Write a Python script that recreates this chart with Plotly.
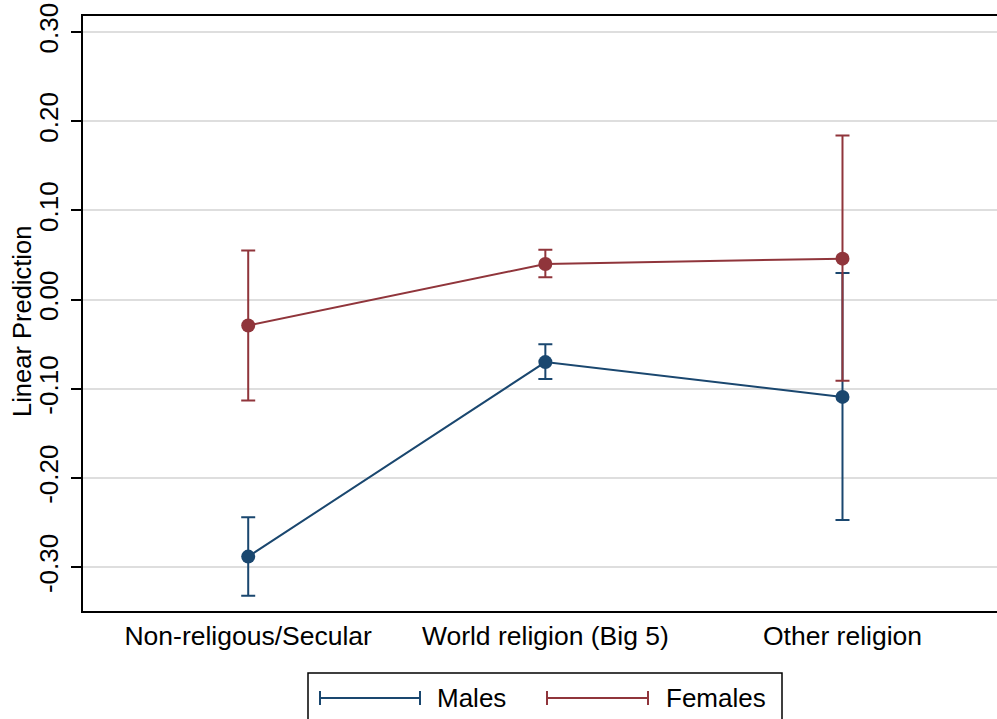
import plotly.graph_objects as go

categories = ["Non-religous/Secular", "World religion (Big 5)", "Other religion"]
males = [-0.288, -0.070, -0.109]
males_lo = [-0.332, -0.089, -0.247]
males_hi = [-0.244, -0.050, 0.030]
females = [-0.029, 0.040, 0.046]
females_lo = [-0.113, 0.025, -0.091]
females_hi = [0.055, 0.056, 0.184]
ytick_vals = [-0.30, -0.20, -0.10, 0.00, 0.10, 0.20, 0.30]
ytick_text = ["-0.30", "-0.20", "-0.10", "0.00", "0.10", "0.20", "0.30"]
y_title = "Linear Prediction"

BLUE = "#1a476f"
RED = "#90353b"
xpos = list(range(len(categories)))

fig = go.Figure()

def add_series(y, lo, hi, color, name):
    fig.add_trace(go.Scatter(
        x=xpos, y=y, mode="lines+markers", name=name,
        line=dict(color=color, width=2),
        marker=dict(color=color, size=14),
        error_y=dict(type="data", symmetric=False,
                     array=[h - v for h, v in zip(hi, y)],
                     arrayminus=[v - l for v, l in zip(y, lo)],
                     color=color, thickness=2, width=7),
        showlegend=False,
    ))

add_series(males, males_lo, males_hi, BLUE, "Males")
add_series(females, females_lo, females_hi, RED, "Females")

FONT = "Liberation Sans, Arial, Helvetica, sans-serif"

fig.update_layout(
    width=997, height=719,
    margin=dict(l=83, r=0, t=16, b=108),
    paper_bgcolor="white", plot_bgcolor="white",
    font=dict(family=FONT, color="black", size=26),
    xaxis=dict(
        range=[-0.556, 2.52], tickvals=xpos, ticktext=categories,
        showgrid=False, zeroline=False, showline=True, linecolor="black",
        linewidth=2, mirror=True, ticks="", tickfont=dict(size=26.5),
        automargin=False,
    ),
    yaxis=dict(
        range=[-0.349, 0.318], tickvals=ytick_vals, ticktext=ytick_text,
        tickangle=-90, showgrid=True, gridcolor="#dedede", gridwidth=2,
        zeroline=False, showline=True, linecolor="black", linewidth=2,
        ticks="outside", ticklen=10, tickwidth=1.5, tickcolor="black",
        ticklabelstandoff=3, ticklabeloverflow="allow",
        tickfont=dict(size=26), automargin=False,
    ),
)

# positions in page pixels relative to plot area
def px(xp):
    return (xp - 83) / 914
def py(yp):
    return (611 - yp) / 595

fig.add_annotation(xref="paper", yref="paper", x=px(22), y=py(322),
                   text=y_title, textangle=-90, showarrow=False,
                   xanchor="center", yanchor="middle",
                   font=dict(size=25.5, family=FONT))

fig.add_shape(type="rect", xref="paper", yref="paper",
              x0=px(308), x1=px(782), y0=py(725), y1=py(673),
              line=dict(color="black", width=1.5), fillcolor="white")
for (x0, x1, color, tx, label) in [(320, 420, BLUE, 435, "Males"),
                                   (547, 648, RED, 664, "Females")]:
    fig.add_shape(type="line", xref="paper", yref="paper",
                  x0=px(x0), x1=px(x1), y0=py(698), y1=py(698),
                  line=dict(color=color, width=2))
    for xc in (x0, x1):
        fig.add_shape(type="line", xref="paper", yref="paper",
                      x0=px(xc), x1=px(xc), y0=py(691), y1=py(705),
                      line=dict(color=color, width=2))
    fig.add_annotation(xref="paper", yref="paper", x=px(tx), y=py(698),
                       text=label, showarrow=False, xanchor="left",
                       yanchor="middle", font=dict(size=26, family=FONT))

fig.write_html("out.html", config={"displayModeBar": False},
               post_script="document.body.style.margin='0';document.body.style.overflow='hidden';")
